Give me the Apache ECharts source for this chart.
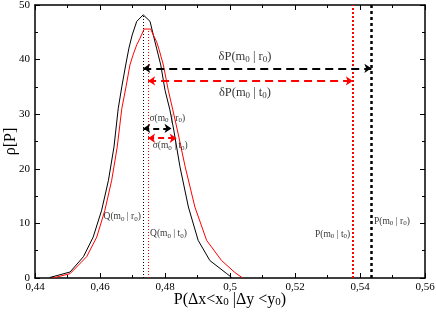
<!DOCTYPE html>
<html><head><meta charset="utf-8">
<script src="https://cdn.jsdelivr.net/npm/echarts@6/dist/echarts.min.js"></script>
<style>html,body{margin:0;padding:0;background:#fff}#c{width:436px;height:314px}</style>
</head><body><div id="c"></div>
<script>
// Distribution rho[P] for r0 (black) and t0 (red)
const blackX = [0.4446,0.4508,0.4549,0.4579,0.4605,0.4626,0.4643,0.4656,0.4667,0.4679,0.4689,0.4699,0.4713,0.4733,0.4754,0.4764,0.4774,0.4787,0.4800,0.4815,0.4827,0.4846,0.4872,0.4902,0.4938,0.4990,0.5005];
const blackY = [0.1,1.1,3.9,7.5,12.4,17.9,24.0,31.0,35.0,39.0,42.1,44.5,47.0,48.2,47.0,44.5,42.1,39.0,34.4,30.8,27.1,20.4,13.0,6.9,3.2,0.8,0.1];
const redX = [0.4455,0.4508,0.4559,0.4590,0.4615,0.4636,0.4653,0.4667,0.4680,0.4692,0.4702,0.4713,0.4723,0.4736,0.4756,0.4764,0.4774,0.4782,0.4795,0.4810,0.4824,0.4838,0.4862,0.4892,0.4928,0.4974,0.5015,0.5039];
const redY = [0.0,0.8,3.9,7.5,12.4,17.9,24.0,31.0,35.0,39.0,40.9,42.7,43.9,45.6,45.6,44.5,43.3,41.8,39.0,34.4,30.8,27.1,20.4,13.0,6.9,3.2,1.0,0.0];

// Reference values
const qR0 = 0.4733, qT0 = 0.4748;     // Q(m0|r0), Q(m0|t0)
const pR0 = 0.5435, pT0 = 0.5378;     // P(m0|r0), P(m0|t0)
const sigR0 = 0.4820, sigT0 = 0.4836; // ends of sigma arrows
const yDeltaR = 38.4, yDeltaT = 36.1, ySigR = 27.4, ySigT = 25.6;
const peakR = 48.2, peakT = 45.6;

// Tick labels
const xMin = 0.44, xMax = 0.56, xStep = 0.02;
const yMin = 0, yMax = 50, yStep = 10;

// Annotation texts and anchors (data coords)
const annotText = ['δP(m{s|0} | r{s|0})','δP(m{s|0} | t{s|0})','σ(m{s|0} | r{s|0})','σ(m{s|0} | t{s|0})','Q(m{s|0} | r{s|0})','Q(m{s|0} | t{s|0})','P(m{s|0} | t{s|0})','P(m{s|0} | r{s|0})'];
const annotX = [0.5046,0.5046,0.4752,0.4762,0.4726,0.4754,0.5370,0.5443];
const annotY = [40.5,33.9,29.2,24.2,11.2,8.1,8.0,10.4];
const annotAlign = ['center','center','left','left','right','left','right','left'];
const annotBig = [true,true,false,false,false,false,false,false];

const SERIF = 'Liberation Serif';
const pts = (xs, ys) => xs.map((x, i) => [x, ys[i]]);

const richSmall = {
  n: {fontFamily: SERIF, fontSize: 9.5, color: '#000'},
  s: {fontFamily: SERIF, fontSize: 7, color: '#000', verticalAlign: 'bottom', padding: [4,0,0,0]}
};
const richBig = {
  n: {fontFamily: SERIF, fontSize: 12.5, color: '#000'},
  s: {fontFamily: SERIF, fontSize: 9, color: '#000', verticalAlign: 'bottom', padding: [5,0,0,0]}
};
function wrapRich(t) {
  return t.split(/(\{s\|0\})/).filter(p => p).map(p => p.startsWith('{s|') ? p : '{n|' + p + '}').join('');
}

const annotData = annotText.map((t, i) => ({
  value: [annotX[i], annotY[i]],
  label: {
    show: true,
    formatter: wrapRich(t),
    position: annotAlign[i] === 'center' ? 'inside' : (annotAlign[i] === 'left' ? 'right' : 'left'),
    distance: 0,
    align: annotAlign[i],
    verticalAlign: 'middle',
    rich: annotBig[i] ? richBig : richSmall
  }
}));

const fmtX = v => String(+(+v).toFixed(2)).replace('.', ',');
const axisCommon = {
  axisLine: {show: true, onZero: false, lineStyle: {color: '#000', width: 1.5}},
  axisTick: {show: true, inside: true, length: 5, lineStyle: {color: '#000', width: 1}},
  minorTick: {show: true, splitNumber: 2, length: 3, lineStyle: {color: '#000', width: 1}},
  splitLine: {show: false},
  minorSplitLine: {show: false}
};

const chart = echarts.init(document.getElementById('c'), null, {renderer: 'canvas'});
chart.setOption({
  animation: false,
  backgroundColor: '#fff',
  grid: {left: 35, right: 11, top: 5, bottom: 36, containLabel: false, outerBoundsMode: 'none'},
  xAxis: [
    Object.assign({}, axisCommon, {
      type: 'value', min: xMin, max: xMax, interval: xStep, position: 'bottom',
      axisLabel: {show: true, formatter: fmtX, fontFamily: SERIF, fontSize: 11, color: '#000', margin: 4},
      name: '{n|P(Δx<x}{s|0}{n| |Δy <y}{s|0}{n|)}',
      nameLocation: 'middle', nameGap: 13, nameMoveOverlap: false,
      nameTextStyle: {verticalAlign: 'top', rich: {
        n: {fontFamily: SERIF, fontSize: 16, color: '#000'},
        s: {fontFamily: SERIF, fontSize: 11, color: '#000', verticalAlign: 'bottom', padding: [6,0,0,0]}
      }}
    }),
    Object.assign({}, axisCommon, {
      type: 'value', min: xMin, max: xMax, interval: xStep, position: 'top',
      axisLabel: {show: false}
    })
  ],
  yAxis: [
    Object.assign({}, axisCommon, {
      type: 'value', min: yMin, max: yMax, interval: yStep, position: 'left',
      axisLabel: {show: true, fontFamily: SERIF, fontSize: 11, color: '#000', margin: 5},
      name: 'ρ[P]', nameLocation: 'middle', nameGap: 16, nameRotate: 90, nameMoveOverlap: false,
      nameTextStyle: {fontFamily: SERIF, fontSize: 16, color: '#000'}
    }),
    Object.assign({}, axisCommon, {
      type: 'value', min: yMin, max: yMax, interval: yStep, position: 'right',
      axisLabel: {show: false}
    })
  ],
  series: [
    {type: 'line', name: 'r0', data: pts(blackX, blackY), symbol: 'none', lineStyle: {color: '#000', width: 1}, z: 3},
    {type: 'line', name: 't0', data: pts(redX, redY), symbol: 'none', lineStyle: {color: '#ff0000', width: 1}, z: 3},
    // vertical dotted reference lines
    {type: 'lines', coordinateSystem: 'cartesian2d', symbol: 'none', z: 2,
      lineStyle: {opacity: 1},
      data: [
        {coords: [[qR0, 0], [qR0, peakR]], lineStyle: {color: '#000', width: 1, opacity: 1, type: [1, 2]}},
        {coords: [[qT0, 0], [qT0, peakT]], lineStyle: {color: '#ff0000', width: 1, opacity: 1, type: [1, 2]}},
        {coords: [[pT0, 0], [pT0, yMax]], lineStyle: {color: '#ff0000', width: 2, opacity: 1, type: [2, 2]}},
        {coords: [[pR0, 0], [pR0, yMax]], lineStyle: {color: '#000', width: 2.5, opacity: 1, type: [3, 3]}}
      ]},
    // dashed double arrows
    {type: 'lines', coordinateSystem: 'cartesian2d', symbol: ['arrow', 'arrow'], symbolSize: 7, z: 4,
      lineStyle: {opacity: 1},
      data: [
        {coords: [[qR0, yDeltaR], [pR0, yDeltaR]], lineStyle: {color: '#000', width: 2, opacity: 1, type: [8, 5]}},
        {coords: [[qT0, yDeltaT], [pT0, yDeltaT]], lineStyle: {color: '#ff0000', width: 2, opacity: 1, type: [8, 5]}},
        {coords: [[qR0, ySigR], [sigR0, ySigR]], lineStyle: {color: '#000', width: 2, opacity: 1, type: [6, 4]}},
        {coords: [[qT0, ySigT], [sigT0, ySigT]], lineStyle: {color: '#ff0000', width: 2, opacity: 1, type: [6, 4]}}
      ]},
    // annotation labels
    {type: 'scatter', symbolSize: 0, data: annotData, silent: true, z: 5}
  ]
});
</script></body></html>
